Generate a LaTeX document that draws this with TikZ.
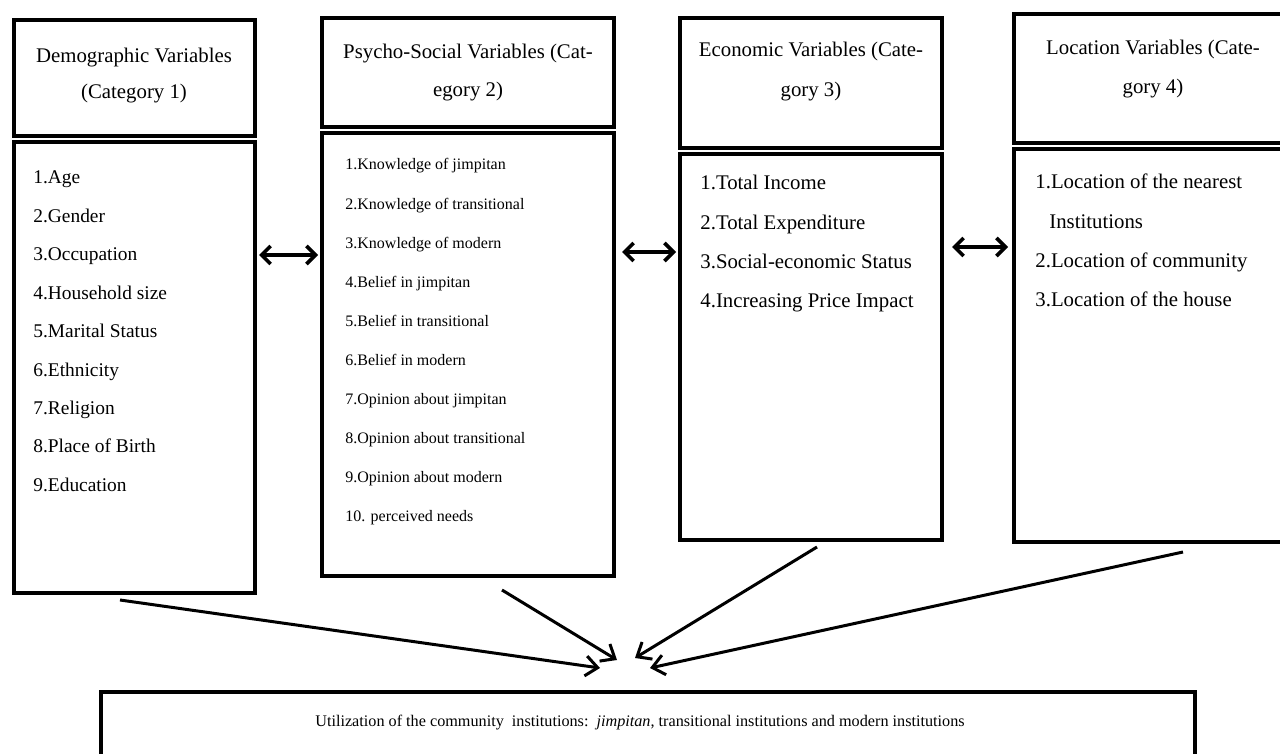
\documentclass[tikz,border=0pt]{standalone}
\usepackage{fontspec}
\setmainfont{Liberation Serif}
\usetikzlibrary{calc,positioning,fit,arrows.meta}

\begin{document}
\begin{tikzpicture}[x=0.5pt,y=-0.5pt
    , every node/.style={inner sep=0pt}
    , frame/.style={draw,line width=2pt,inner sep=0pt}
    , headtext/.style={align=center,font=\fontsize{10.4}{19}\selectfont}
    , twoway/.style={line width=1.8pt,
        {Straight Barb[length=4.5pt,width=9pt]}-{Straight Barb[length=4.5pt,width=9pt]}}
    , oneway/.style={line width=1.5pt,-{Straight Barb[length=6pt,width=10pt]}}
]
    \useasboundingbox (0,0) rectangle (1280,754);

    % Category 1
    \node[frame,fit={(14,20) (255,136)}] (demohead) {};
    \node[frame,fit={(14,142) (255,593)}] (demobody) {};
    \node[headtext,font=\fontsize{10.4}{18}\selectfont] (demotitle) at (134,76)
        {Demographic Variables\\(Category 1)};
    \foreach \item[count=\i] in {1.Age,2.Gender,3.Occupation,4.Household size,
        5.Marital Status,6.Ethnicity,7.Religion,8.Place of Birth,9.Education}
        \node[anchor=base west,font=\fontsize{9.7}{12}\selectfont] (demo\i)
            at (33,184+38.4*\i-38.4) {\item};

    % Category 2
    \node[frame,fit={(322,18) (614,127)}] (psyhead) {};
    \node[frame,fit={(322,133) (614,576)}] (psybody) {};
    \node[headtext,font=\fontsize{10.4}{19}\selectfont] (psytitle) at (468,73)
        {Psycho-Social Variables (Cat-\\egory 2)};
    \foreach \item[count=\i] in {1.Knowledge of jimpitan,2.Knowledge of transitional,
        3.Knowledge of modern,4.Belief in jimpitan,5.Belief in transitional,
        6.Belief in modern,7.Opinion about jimpitan,8.Opinion about transitional,
        9.Opinion about modern,10. perceived needs}
        \node[anchor=base west,font=\fontsize{8}{10}\selectfont] (psy\i)
            at (345,170+39.1*\i-39.1) {\item};

    % Category 3
    \node[frame,fit={(680,18) (942,148)}] (ecohead) {};
    \node[frame,fit={(680,154) (942,540)}] (ecobody) {};
    \node[headtext,font=\fontsize{10.4}{20}\selectfont] (ecotitle) at (811,72)
        {Economic Variables (Cate-\\gory 3)};
    \foreach \item[count=\i] in {1.Total Income,2.Total Expenditure,
        3.Social-economic Status,4.Increasing Price Impact}
        \node[anchor=base west,font=\fontsize{10.4}{12}\selectfont] (eco\i)
            at (700,190+39.3*\i-39.3) {\item};

    % Category 4
    \node[frame,fit={(1014,14) (1292,143)}] (lochead) {};
    \node[frame,fit={(1014,149) (1292,542)}] (locbody) {};
    \node[headtext,font=\fontsize{10.4}{19.5}\selectfont] (loctitle) at (1153,69)
        {Location Variables (Cate-\\gory 4)};
    \foreach \item[count=\i] in {1.Location of the nearest,\hspace*{7pt}Institutions,
        2.Location of community,3.Location of the house}
        \node[anchor=base west,font=\fontsize{10.4}{12}\selectfont] (loc\i)
            at (1035,189+39.3*\i-39.3) {\item};

    % Outcome
    \node[frame,fit={(101,692) (1195,800)}] (util) {};
    \node[font=\fontsize{8.1}{10}\selectfont] (utiltext) at (640,723)
        {Utilization of the community\ \ institutions:\ \ \textit{jimpitan}, transitional institutions and modern institutions};

    % Links between categories
    \coordinate (link12) at (0,255);
    \coordinate (link23) at (0,252);
    \coordinate (link34) at (0,247);
    \draw[twoway,shorten <=1pt,shorten >=1pt] (demobody.east |- link12) -- (psybody.west |- link12);
    \draw[twoway,shorten <=3pt,shorten >=1pt] (psybody.east |- link23) -- (ecobody.west |- link23);
    \draw[twoway,shorten <=4pt,shorten >=2pt] (ecobody.east |- link34) -- (locbody.west |- link34);

    % Arrows into the outcome
    \coordinate (demofoot) at (120,600);
    \coordinate (psyfoot) at (502,590);
    \coordinate (ecofoot) at (817,547);
    \coordinate (locfoot) at (1183,552);
    \coordinate (demotip) at (600,668);
    \coordinate (psytip) at (617,660);
    \coordinate (ecotip) at (635,658);
    \coordinate (loctip) at (650,668);
    \draw[oneway] (demofoot) -- (demotip);
    \draw[oneway] (psyfoot) -- (psytip);
    \draw[oneway] (ecofoot) -- (ecotip);
    \draw[oneway] (locfoot) -- (loctip);
\end{tikzpicture}
\end{document}
